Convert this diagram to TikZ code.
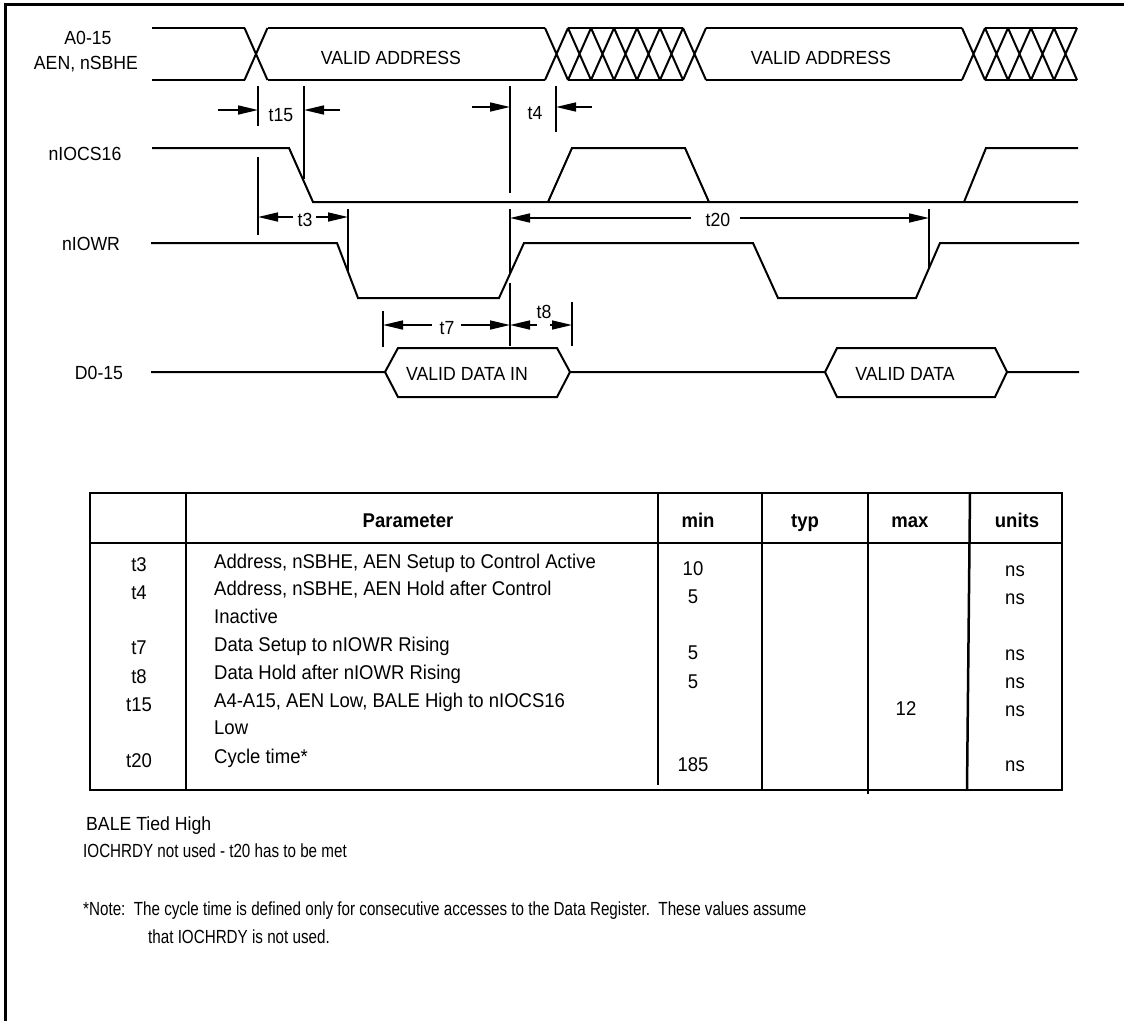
\documentclass[tikz,border=0pt]{standalone}
\usepackage{fontspec}
\setmainfont{Liberation Sans}
\newfontfamily\tallfont[FakeStretch=0.93]{Liberation Sans}
\newfontfamily\narrowfont[FakeStretch=0.8]{Liberation Sans}
\usetikzlibrary{arrows.meta}

\tikzset{
  sig/.style={line width=2pt, line join=miter},
  tick/.style={line width=2pt},
  dimarrow/.style={line width=1.6pt, -{Triangle[length=20pt,width=9pt]}},
  lbl/.style={inner sep=0pt, text height=13pt, text depth=0pt, font=\tallfont\fontsize{19}{22}\selectfont},
  cell/.style={lbl, font=\tallfont\fontsize{19.9}{23}\selectfont},
  head/.style={lbl, font=\tallfont\fontsize{19.9}{23}\selectfont\bfseries},
  note/.style={lbl, anchor=west, font=\narrowfont\fontsize{19}{22}\selectfont},
  tablerule/.style={line width=2.5pt},
}

\begin{document}
\begin{tikzpicture}[x=1pt, y=-1pt]
\useasboundingbox (0,0) rectangle (1124,1021);
\draw[line width=3pt] (5.5,1021) -- (5.5,4.5) -- (1124,4.5);

% signal names
\node[lbl] (nameA) at (88,38) {A0-15};
\node[lbl] (nameAEN) at (86,63) {AEN, nSBHE};
\node[lbl] (nameCS) at (85,154) {nIOCS16};
\node[lbl] (nameWR) at (91,244) {nIOWR};
\node[lbl] (nameD) at (99,373) {D0-15};

% address bus
\foreach \a/\b in {152/244.5, 267.5/545, 568/683, 706/962, 985/1077}
  \draw[sig] (\a,28) -- (\b,28) (\a,80) -- (\b,80);
\foreach \l in {244.5, 545, 568, 591, 614, 637, 660, 683, 962, 985, 1008, 1031, 1054}
  \draw[sig] (\l,28) -- +(23,52) (\l,80) -- +(23,-52);
\node[lbl] (addr1) at (391,58) {VALID ADDRESS};
\node[lbl] (addr2) at (821,58) {VALID ADDRESS};

% nIOCS16
\draw[sig] (152,148) -- (289,148) -- (313,202) -- (1078,202);
\draw[sig] (548,202) -- (572,148) -- (685,148) -- (709,202);
\draw[sig] (964,202) -- (986,148) -- (1078,148);

% nIOWR
\draw[sig] (151,243) -- (337,243) -- (358,298) -- (499,298) -- (524,243) -- (753,243)
  -- (778,298) -- (916,298) -- (940,243) -- (1079,243);

% D0-15
\draw[sig] (151,372) -- (385,372) -- (398,348) -- (557,348) -- (570,372) -- (825,372)
  -- (837,348) -- (995,348) -- (1007,372) -- (1079,372);
\draw[sig] (385,372) -- (398,397) -- (557,397) -- (570,372);
\draw[sig] (825,372) -- (837,397) -- (995,397) -- (1007,372);
\node[lbl] (dat1) at (467,374) {VALID DATA IN};
\node[lbl] (dat2) at (905,374) {VALID DATA};

% timing marks
\coordinate (m15a) at (258,110);
\coordinate (m15b) at (304,110);
\coordinate (m4a) at (510,107);
\coordinate (m4b) at (556,107);
\coordinate (m3a) at (258,217);
\coordinate (m3b) at (348,217);
\coordinate (m20a) at (510,218);
\coordinate (m20b) at (929,218);
\coordinate (m7a) at (383,325);
\coordinate (m7b) at (510,325);
\coordinate (m8b) at (572,325);

\draw[tick] (258,86) -- (258,126) (304,86) -- (304,179);
\draw[tick] (510,86) -- (510,193) (556,86) -- (556,132);
\draw[tick] (258,157) -- (258,235) (348,209) -- (348,272);
\draw[tick] (510,209) -- (510,274) (929,209) -- (929,268);
\draw[tick] (383,311) -- (383,347) (510,283) -- (510,346) (572,302) -- (572,346);

\draw[dimarrow] (218,110) -- (m15a);
\draw[dimarrow] (340,110) -- (m15b);
\node[lbl] (t15) at (281,115) {t15};
\draw[dimarrow] (472,107) -- (m4a);
\draw[dimarrow] (592,107) -- (m4b);
\node[lbl] (t4) at (535,113) {t4};
\draw[dimarrow] (293,217) -- (m3a);
\draw[dimarrow] (316,217) -- (m3b);
\node[lbl] (t3) at (305,220) {t3};
\draw[dimarrow] (691,218) -- (m20a);
\draw[dimarrow] (740,218) -- (m20b);
\node[lbl] (t20) at (718,220) {t20};
\draw[dimarrow] (432,325) -- (m7a);
\draw[dimarrow] (461,325) -- (m7b);
\node[lbl] (t7) at (447,328) {t7};
\draw[dimarrow] (537,325) -- (m7b);
\draw[dimarrow] (550,325) -- (m8b);
\node[lbl] (t8) at (544,312) {t8};

% table
\draw[tablerule] (90,493) rectangle (1062,790);
\draw[tablerule] (90,543) -- (1062,543);
\draw[tablerule] (186,493) -- (186,790);
\draw[tablerule] (658,493) -- (658,785);
\draw[tablerule] (762,493) -- (762,790);
\draw[tablerule] (868,493) -- (868,794);
\draw[tablerule] (970,493) -- (967,790);

\node[head] (hpar) at (408,521) {Parameter};
\node[head] (hmin) at (698,521) {min};
\node[head] (htyp) at (805,521) {typ};
\node[head] (hmax) at (910,521) {max};
\node[head] (hunit) at (1017,521) {units};

\foreach \n/\y in {t3/565, t4/593, t7/648, t8/677, t15/705, t20/761}
  \node[cell] (row\n) at (139,\y) {\n};
\node[cell, anchor=west] (par1) at (214,562) {Address, nSBHE, AEN Setup to Control Active};
\node[cell, anchor=west] (par2) at (214,589) {Address, nSBHE, AEN Hold after Control};
\node[cell, anchor=west] (par3) at (214,617) {Inactive};
\node[cell, anchor=west] (par4) at (214,645) {Data Setup to nIOWR Rising};
\node[cell, anchor=west] (par5) at (214,673) {Data Hold after nIOWR Rising};
\node[cell, anchor=west] (par6) at (214,701) {A4-A15, AEN Low, BALE High to nIOCS16};
\node[cell, anchor=west] (par7) at (214,728) {Low};
\node[cell, anchor=west] (par8) at (214,757) {Cycle time*};

\foreach \v/\y [count=\i] in {10/569, 5/597, 5/653, 5/682, 185/765}
  \node[cell] (min\i) at (693,\y) {\v};
\node[cell] (max1) at (906,709) {12};
\foreach \y [count=\i] in {570, 598, 654, 682, 710, 765}
  \node[cell] (unit\i) at (1015,\y) {ns};

% notes
\node[lbl, anchor=west] (note1) at (86,824) {BALE Tied High};
\node[note] (note2) at (83,851) {IOCHRDY not used - t20 has to be met};
\node[note] (note3) at (83,909) {*Note:\ \ The cycle time is defined only for consecutive accesses to the Data Register.\ \ These values assume};
\node[note] (note4) at (148,937) {that IOCHRDY is not used.};
\end{tikzpicture}
\end{document}
